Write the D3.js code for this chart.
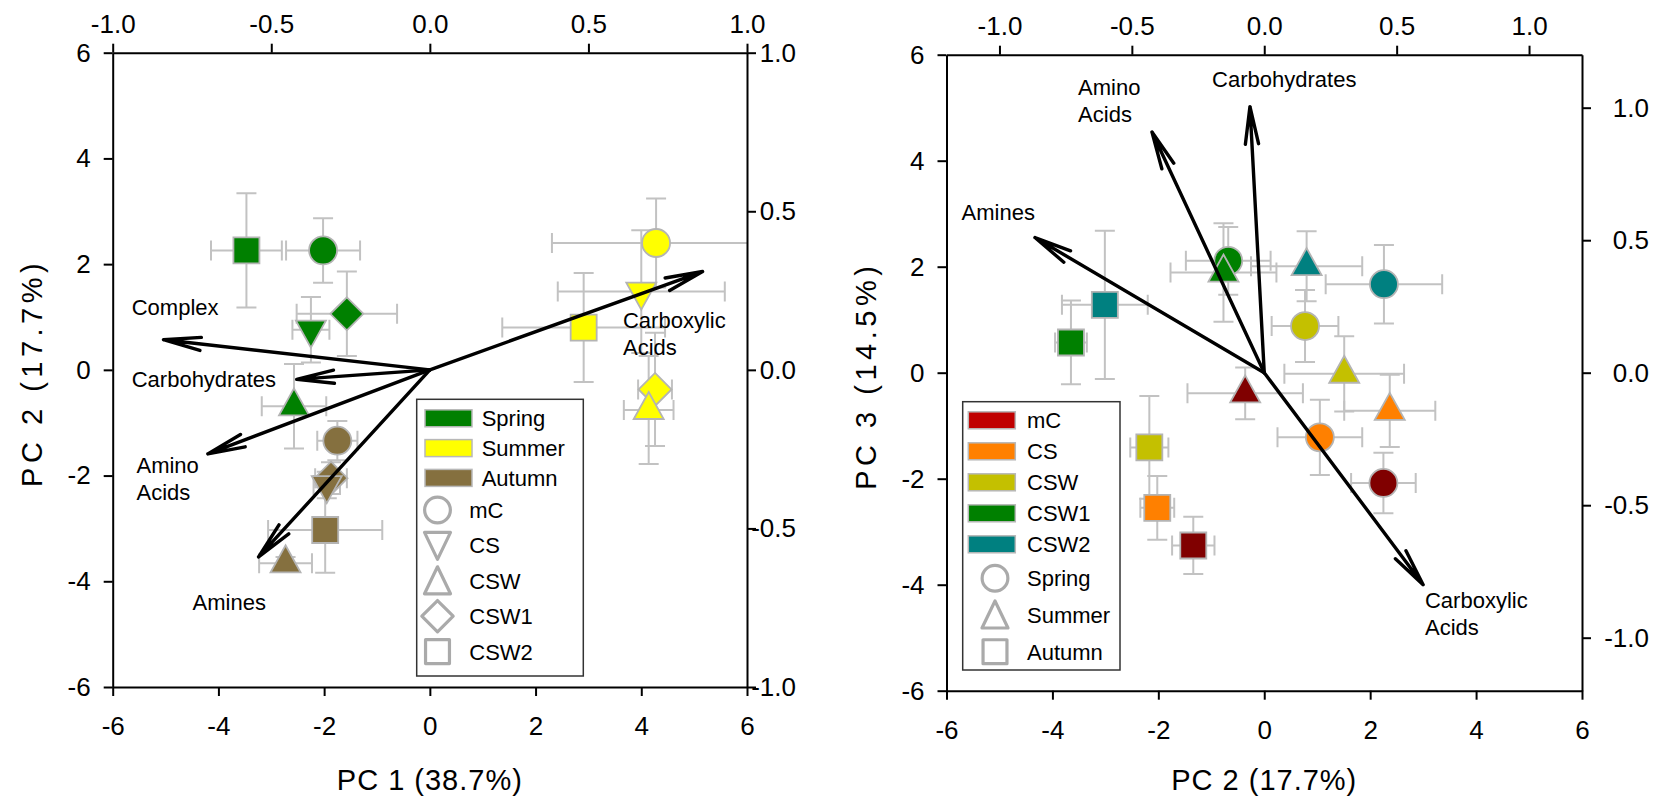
<!DOCTYPE html>
<html>
<head>
<meta charset="utf-8">
<script src="https://cdn.jsdelivr.net/npm/d3@7"></script>
<style>
body { margin: 0; background: #fff; }
svg { display: block; font-family: "Liberation Sans", Arial, sans-serif; }
</style>
</head>
<body>
<svg id="chart" width="1657" height="799"></svg>
<script>
//////////////////////////////////////////////////////////////////////////////
// Data

var seasons = ["Spring", "Summer", "Autumn"];
var sites = ["mC", "CS", "CSW", "CSW1", "CSW2"];

// season, site, PC1, PC2, error PC1, error PC2
var scoresPC1PC2 = [
    ["Spring", "CSW2", -3.47,  2.26, 0.67, 1.08],
    ["Spring", "mC",   -2.02,  2.26, 0.70, 0.61],
    ["Spring", "CSW1", -1.57,  1.06, 0.95, 0.80],
    ["Spring", "CS",   -2.25,  0.76, 0.35, 0.62],
    ["Spring", "CSW",  -2.57, -0.69, 0.61, 0.80],
    ["Summer", "mC",    4.28,  2.40, 1.97, 0.84],
    ["Summer", "CSW2",  2.91,  0.80, 1.54, 1.03],
    ["Summer", "CS",    4.00,  1.48, 1.58, 1.16],
    ["Summer", "CSW1",  4.26, -0.37, 0.32, 1.07],
    ["Summer", "CSW",   4.14, -0.76, 0.47, 1.02],
    ["Autumn", "mC",   -1.75, -1.34, 0.38, 0.37],
    ["Autumn", "CSW1", -1.87, -2.05, 0.30, 0.30],
    ["Autumn", "CS",   -1.95, -2.18, 0.25, 0.25],
    ["Autumn", "CSW2", -1.98, -3.03, 1.08, 0.81],
    ["Autumn", "CSW",  -2.73, -3.66, 0.50, 0.12]
];

// season, site, PC2, PC3, error PC2, error PC3
var scoresPC2PC3 = [
    ["Spring", "mC",    2.25, -2.08, 0.61, 0.57],
    ["Spring", "CS",    1.05, -1.22, 0.80, 0.71],
    ["Spring", "CSW",   0.77,  0.88, 0.63, 0.68],
    ["Spring", "CSW1", -0.68,  2.11, 0.80, 0.64],
    ["Spring", "CSW2",  2.26,  1.67, 1.10, 0.74],
    ["Summer", "mC",   -0.36, -0.39, 1.09, 0.49],
    ["Summer", "CS",    2.37, -0.72, 0.86, 0.68],
    ["Summer", "CSW",   1.51, -0.02, 1.13, 0.71],
    ["Summer", "CSW1", -0.77,  1.89, 1.00, 0.93],
    ["Summer", "CSW2",  0.80,  2.01, 1.05, 0.66],
    ["Autumn", "mC",   -1.34, -3.26, 0.40, 0.54],
    ["Autumn", "CS",   -2.02, -2.55, 0.32, 0.60],
    ["Autumn", "CSW",  -2.17, -1.41, 0.36, 0.97],
    ["Autumn", "CSW1", -3.65,  0.57, 0.30, 0.79],
    ["Autumn", "CSW2", -3.01,  1.28, 0.81, 1.40]
];

// variable, loading on x component, loading on y component
var loadingsPC1PC2 = [
    ["Complex",          -0.84,  0.095],
    ["Carbohydrates",    -0.42, -0.03],
    ["Amino Acids",      -0.70, -0.265],
    ["Amines",           -0.54, -0.59],
    ["Carboxylic Acids",  0.86,  0.31]
];

var loadingsPC2PC3 = [
    ["Amines",           -0.866,  0.51],
    ["Amino Acids",      -0.424,  0.908],
    ["Carbohydrates",    -0.054,  1.004],
    ["Carboxylic Acids",  0.60,  -0.80]
];

var scoreTicks = [-6, -4, -2, 0, 2, 4, 6];
var loadingTicks = [-1.0, -0.5, 0.0, 0.5, 1.0];

//////////////////////////////////////////////////////////////////////////////
// Styles and layout

var seasonColors = {Spring: "#008000", Summer: "#ffff00", Autumn: "#85703f"};
var siteColors = {mC: "#800000", CS: "#ff8000", CSW: "#c4c000", CSW1: "#008000", CSW2: "#008080"};
var siteSwatchColors = {mC: "#c00000", CS: "#ff8000", CSW: "#c4c000", CSW1: "#008000", CSW2: "#008080"};

var siteShapes = {mC: "circle", CS: "down", CSW: "up", CSW1: "diamond", CSW2: "square"};
var seasonShapes = {Spring: "circle", Summer: "up", Autumn: "square"};

// label lines and anchor (in loading units) for the arrow labels
var labelsPC1PC2 = {
    "Complex":          {lines: ["Complex"], x: -0.94, y: 0.173},
    "Carbohydrates":    {lines: ["Carbohydrates"], x: -0.94, y: -0.053},
    "Amino Acids":      {lines: ["Amino", "Acids"], x: -0.925, y: -0.326},
    "Amines":           {lines: ["Amines"], x: -0.748, y: -0.756},
    "Carboxylic Acids": {lines: ["Carboxylic", "Acids"], x: 0.609, y: 0.131}
};
var labelsPC2PC3 = {
    "Amines":           {lines: ["Amines"], x: -1.143, y: 0.576},
    "Amino Acids":      {lines: ["Amino", "Acids"], x: -0.703, y: 1.048},
    "Carbohydrates":    {lines: ["Carbohydrates"], x: -0.197, y: 1.078},
    "Carboxylic Acids": {lines: ["Carboxylic", "Acids"], x: 0.607, y: -0.888}
};

var svg = d3.select("#chart");

function shapePath(shape, k)
{
    k = k || 1;
    var p = d3.path();
    if (shape == "circle") {
        p.arc(0, 0, 14 * k, 0, 2 * Math.PI);
    } else if (shape == "square") {
        p.rect(-13 * k, -13 * k, 26 * k, 26 * k);
    } else if (shape == "up") {
        p.moveTo(0, -18 * k); p.lineTo(15 * k, 9 * k); p.lineTo(-15 * k, 9 * k); p.closePath();
    } else if (shape == "down") {
        p.moveTo(0, 18 * k); p.lineTo(15 * k, -9 * k); p.lineTo(-15 * k, -9 * k); p.closePath();
    } else {
        p.moveTo(0, -16.5 * k); p.lineTo(16.5 * k, 0); p.lineTo(0, 16.5 * k); p.lineTo(-16.5 * k, 0); p.closePath();
    }
    return p.toString();
}

// legend symbols sit in their own row box, so triangles are centred on it
function legendPath(shape)
{
    var p = d3.path();
    if (shape == "up") {
        p.moveTo(0, -14); p.lineTo(13, 13); p.lineTo(-13, 13); p.closePath();
        return p.toString();
    }
    if (shape == "down") {
        p.moveTo(0, 14); p.lineTo(13, -13); p.lineTo(-13, -13); p.closePath();
        return p.toString();
    }
    return shapePath(shape, shape == "diamond" ? 0.95 : 0.92);
}

function drawPanel(cfg)
{
    var xS = d3.scaleLinear().domain([-6, 6]).range([cfg.x0, cfg.x1]);
    var yS = d3.scaleLinear().domain([-6, 6]).range([cfg.y1, cfg.y0]);
    var xL = d3.scaleLinear().domain(cfg.loadDomain).range([cfg.x0, cfg.x1]);
    var yL = d3.scaleLinear().domain(cfg.loadDomain).range([cfg.y1, cfg.y0]);

    var g = svg.append("g");

    g.append("clipPath").attr("id", cfg.id + "-clip")
        .append("rect")
        .attr("x", cfg.x0).attr("y", cfg.y0)
        .attr("width", cfg.x1 - cfg.x0).attr("height", cfg.y1 - cfg.y0);

    // error bars
    var eb = g.append("g")
        .attr("clip-path", "url(#" + cfg.id + "-clip)")
        .attr("stroke", "#c2c2c2")
        .attr("stroke-width", 2)
        .attr("fill", "none");
    cfg.scores.forEach(function(d) {
        var cx = xS(d[2]), cy = yS(d[3]);
        var xa = xS(d[2] - d[4]), xb = xS(d[2] + d[4]);
        var ya = yS(d[3] - d[5]), yb = yS(d[3] + d[5]);
        eb.append("path").attr("d",
            "M" + xa + "," + cy + "H" + xb +
            "M" + xa + "," + (cy - 10) + "V" + (cy + 10) +
            "M" + xb + "," + (cy - 10) + "V" + (cy + 10) +
            "M" + cx + "," + ya + "V" + yb +
            "M" + (cx - 10) + "," + ya + "H" + (cx + 10) +
            "M" + (cx - 10) + "," + yb + "H" + (cx + 10));
    });

    // markers
    g.append("g")
        .selectAll("path")
        .data(cfg.scores)
        .enter()
        .append("path")
        .attr("transform", function(d) { return "translate(" + xS(d[2]) + "," + yS(d[3]) + ")"; })
        .attr("d", function(d) { return shapePath(cfg.shapeOf(d)); })
        .attr("fill", cfg.colorOf)
        .attr("stroke", "#b4b4b4")
        .attr("stroke-width", 1.8);

    // loading arrows
    var ox = xL(0), oy = yL(0);
    var ag = g.append("g")
        .attr("stroke", "#000")
        .attr("stroke-width", 3.4)
        .attr("stroke-linecap", "round")
        .attr("fill", "none");
    cfg.loadings.forEach(function(d) {
        var tx = xL(d[1]), ty = yL(d[2]);
        var ang = Math.atan2(oy - ty, ox - tx);
        var a = 10 * Math.PI / 180, len = 38;
        ag.append("path").attr("d",
            "M" + ox + "," + oy + "L" + tx + "," + ty +
            "M" + (tx + len * Math.cos(ang + a)) + "," + (ty + len * Math.sin(ang + a)) +
            "L" + tx + "," + ty +
            "L" + (tx + len * Math.cos(ang - a)) + "," + (ty + len * Math.sin(ang - a)));
    });

    cfg.loadings.forEach(function(d) {
        var lab = cfg.labels[d[0]];
        var t = g.append("text")
            .attr("x", xL(lab.x))
            .attr("y", yL(lab.y))
            .attr("font-size", 22)
            .attr("fill", "#000");
        lab.lines.forEach(function(line, i) {
            t.append("tspan").attr("x", xL(lab.x)).attr("dy", i == 0 ? 0 : 27).text(line);
        });
    });

    // axes
    function styleAxis(sel) {
        sel.selectAll(".domain").attr("stroke", "#000").attr("stroke-width", 2);
        sel.selectAll(".tick line").attr("stroke", "#000").attr("stroke-width", 2);
        sel.selectAll(".tick text").attr("fill", "#000").attr("font-size", 26)
            .attr("font-family", "'Liberation Sans', Arial, sans-serif");
    }
    var fInt = function(v) { return v.toFixed(0); };
    var fDec = function(v) { return v.toFixed(1); };

    g.append("g").attr("transform", "translate(0," + cfg.y1 + ")")
        .call(d3.axisBottom(xS).tickValues(scoreTicks).tickFormat(fInt).tickSize(9).tickSizeOuter(0).tickPadding(21))
        .call(styleAxis);
    g.append("g").attr("transform", "translate(" + cfg.x0 + ",0)")
        .call(d3.axisLeft(yS).tickValues(scoreTicks).tickFormat(fInt).tickSize(9).tickSizeOuter(0).tickPadding(13))
        .call(styleAxis);
    g.append("g").attr("transform", "translate(0," + cfg.y0 + ")")
        .call(d3.axisTop(xL).tickValues(loadingTicks).tickFormat(fDec).tickSize(9).tickSizeOuter(0).tickPadding(11))
        .call(styleAxis);
    g.append("g").attr("transform", "translate(" + cfg.x1 + ",0)")
        .call(d3.axisRight(yL).tickValues(loadingTicks).tickFormat(fDec).tickSize(9).tickSizeOuter(0))
        .call(styleAxis)
        .call(function(a) {
            a.selectAll(".tick text").attr("text-anchor", "end").attr("x", cfg.rightLabelEdge);
        });

    // axis titles
    g.append("text")
        .attr("x", (cfg.x0 + cfg.x1) / 2)
        .attr("y", 790)
        .attr("text-anchor", "middle")
        .attr("font-size", 29)
        .attr("letter-spacing", 1)
        .text(cfg.xTitle);
    g.append("text")
        .attr("transform", "translate(" + cfg.yTitleX + "," + ((cfg.y0 + cfg.y1) / 2 + 3) + ") rotate(-90)")
        .attr("text-anchor", "middle")
        .attr("font-size", 29)
        .attr("letter-spacing", 4.5)
        .text(cfg.yTitle);

    // legend
    var L = cfg.legend;
    var lg = g.append("g");
    lg.append("rect")
        .attr("x", L.x).attr("y", L.y).attr("width", L.w).attr("height", L.h)
        .attr("fill", "#fff").attr("stroke", "#333").attr("stroke-width", 1.5);
    L.colorKeys.forEach(function(key, i) {
        var cy = L.colorY0 + i * L.colorStep;
        lg.append("rect")
            .attr("x", L.swX).attr("y", cy - 8.5).attr("width", 47).attr("height", 17)
            .attr("fill", L.colors[key]).attr("stroke", "#b8b8b8").attr("stroke-width", 1.5);
        lg.append("text").attr("x", L.colorTextX).attr("y", cy + 8)
            .attr("font-size", 22).text(key);
    });
    L.shapeKeys.forEach(function(key, i) {
        var cy = L.shapeY0 + i * L.shapeStep;
        lg.append("path")
            .attr("transform", "translate(" + L.symX + "," + cy + ")")
            .attr("d", legendPath(L.shapes[key]))
            .attr("fill", "none").attr("stroke", "#aaaaaa").attr("stroke-width", 3.2)
            .attr("stroke-linejoin", "round");
        lg.append("text").attr("x", L.shapeTextX).attr("y", cy + 8)
            .attr("font-size", 22).text(key);
    });
}

drawPanel({
    id: "p12",
    x0: 112.7, x1: 747, y0: 52.7, y1: 687,
    loadDomain: [-1, 1],
    scores: scoresPC1PC2,
    loadings: loadingsPC1PC2,
    labels: labelsPC1PC2,
    shapeOf: function(d) { return siteShapes[d[1]]; },
    colorOf: function(d) { return seasonColors[d[0]]; },
    rightLabelEdge: 49,
    xTitle: "PC 1 (38.7%)",
    yTitle: "PC 2 (17.7%)",
    yTitleX: 42,
    legend: {
        x: 416.7, y: 399.3, w: 166.6, h: 276.7,
        swX: 425, colorTextX: 481.7, colorY0: 418.3, colorStep: 29.8,
        colorKeys: seasons, colors: seasonColors,
        symX: 437.5, shapeTextX: 469.3, shapeY0: 510, shapeStep: 35.4,
        shapeKeys: sites, shapes: siteShapes
    }
});

drawPanel({
    id: "p23",
    x0: 946.5, x1: 1582, y0: 54.7, y1: 690.7,
    loadDomain: [-1.2, 1.2],
    scores: scoresPC2PC3,
    loadings: loadingsPC2PC3,
    labels: labelsPC2PC3,
    shapeOf: function(d) { return seasonShapes[d[0]]; },
    colorOf: function(d) { return siteColors[d[1]]; },
    rightLabelEdge: 67,
    xTitle: "PC 2 (17.7%)",
    yTitle: "PC 3 (14.5%)",
    yTitleX: 876,
    legend: {
        x: 962.7, y: 401.7, w: 157.3, h: 268.3,
        swX: 968.3, colorTextX: 1027, colorY0: 420.3, colorStep: 31,
        colorKeys: sites, colors: siteSwatchColors,
        symX: 995, shapeTextX: 1027, shapeY0: 578.3, shapeStep: 36.7,
        shapeKeys: seasons, shapes: seasonShapes
    }
});
</script>
</body>
</html>
